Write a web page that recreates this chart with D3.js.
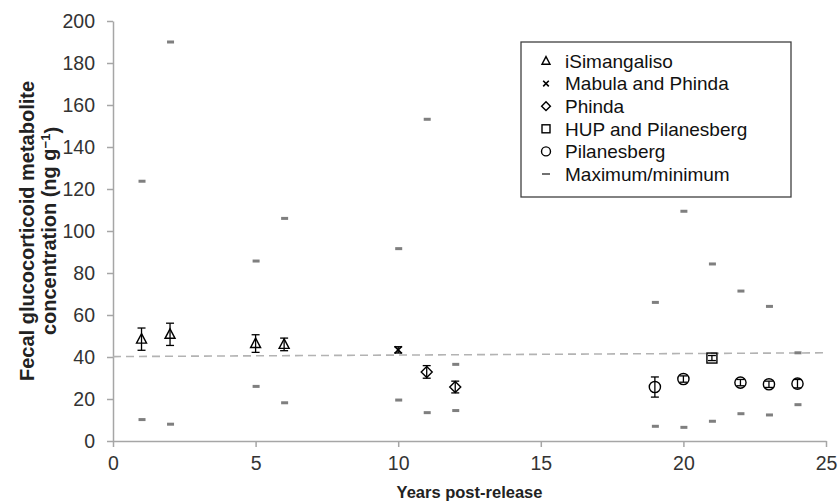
<!DOCTYPE html>
<html>
<head>
<meta charset="utf-8">
<script src="https://cdn.jsdelivr.net/npm/d3@7/dist/d3.min.js"></script>
<style>
  body { margin: 0; background: #fff; }
  text { font-family: "Liberation Sans", Arial, sans-serif; }
</style>
</head>
<body>
<div id="chart"></div>
<script>
const years = [1, 2, 5, 6, 10, 11, 12, 19, 20, 21, 22, 23, 24];
const sites = ['iSimangaliso', 'iSimangaliso', 'iSimangaliso', 'iSimangaliso', 'Mabula and Phinda',
  'Phinda', 'Phinda', 'Pilanesberg', 'Pilanesberg', 'HUP and Pilanesberg', 'Pilanesberg', 'Pilanesberg', 'Pilanesberg'];
const means = [48.5, 50.8, 46.4, 46, 43.4, 32.9, 25.7, 25.7, 29.5, 39.5, 27.8, 27, 27.3];
const errs = [5.3, 5.3, 4.2, 3, 1.5, 3, 2.8, 4.8, 1.5, 1.2, 1.5, 1.5, 2];
const maxima = [123.7, 190, 85.7, 106, 91.6, 153.2, 36.5, 66, 109.4, 84.3, 71.4, 64.1, 42];
const minima = [10.2, 8, 26, 18.2, 19.5, 13.5, 14.5, 7, 6.5, 9.4, 13, 12.4, 17.3];
const trendYears = [0, 25];
const trendValues = [40.2, 42];
const xTicks = [0, 5, 10, 15, 20, 25];
const yTicks = [0, 20, 40, 60, 80, 100, 120, 140, 160, 180, 200];
const legendLabels = ['iSimangaliso', 'Mabula and Phinda', 'Phinda', 'HUP and Pilanesberg', 'Pilanesberg', 'Maximum/minimum'];

const margin = { top: 21, right: 14, bottom: 63, left: 113 };
const width = 840 - margin.left - margin.right;
const height = 504 - margin.top - margin.bottom;

const x = d3.scaleLinear().domain([0, 25]).range([0, width]);
const y = d3.scaleLinear().domain([0, 200]).range([height, 0]);

const svg = d3.select('#chart').append('svg')
  .attr('width', 840)
  .attr('height', 504)
  .append('g')
  .attr('transform', `translate(${margin.left},${margin.top})`);

const axisColor = '#a6a6a6';

// axes
const xAxis = svg.append('g')
  .attr('transform', `translate(0,${height})`)
  .call(d3.axisBottom(x).tickValues(xTicks).tickSize(6).tickSizeOuter(0).tickPadding(9));
const yAxis = svg.append('g')
  .call(d3.axisLeft(y).tickValues(yTicks).tickSize(6).tickSizeOuter(0).tickPadding(12));
[xAxis, yAxis].forEach((a) => {
  a.select('.domain').attr('stroke', axisColor).attr('stroke-width', 1.5);
  a.selectAll('.tick line').attr('stroke', axisColor).attr('stroke-width', 1.5);
  a.selectAll('.tick text').attr('fill', '#333').attr('font-size', '19.5px')
    .attr('font-family', '"Liberation Sans", Arial, sans-serif');
});

// trend line
svg.append('line')
  .attr('x1', x(trendYears[0])).attr('y1', y(trendValues[0]))
  .attr('x2', x(trendYears[1])).attr('y2', y(trendValues[1]))
  .attr('stroke', '#b3b3b3')
  .attr('stroke-width', 1.6)
  .attr('stroke-dasharray', '8,5');

const data = years.map((yr, i) => ({
  year: yr, site: sites[i], mean: means[i], err: errs[i], max: maxima[i], min: minima[i],
}));

// max/min dashes
const dash = svg.append('g');
data.forEach((d) => {
  [d.max, d.min].forEach((v) => {
    dash.append('rect')
      .attr('x', x(d.year) - 3)
      .attr('y', y(v) - 1.5)
      .attr('width', 7)
      .attr('height', 3)
      .attr('fill', '#7f7f7f');
  });
});

// error bars
const eb = svg.append('g').attr('stroke', '#000').attr('stroke-width', 1.3);
data.forEach((d) => {
  const cx = x(d.year);
  eb.append('line').attr('x1', cx).attr('x2', cx).attr('y1', y(d.mean + d.err)).attr('y2', y(d.mean - d.err));
  [d.mean + d.err, d.mean - d.err].forEach((v) => {
    eb.append('line').attr('x1', cx - 4).attr('x2', cx + 4).attr('y1', y(v)).attr('y2', y(v));
  });
});

function marker(g, site, cx, cy, k) {
  const s = g.append('g').attr('transform', `translate(${cx},${cy}) scale(${k})`)
    .attr('fill', 'none').attr('stroke', '#000').attr('stroke-width', 1.4 / k);
  if (site === 'iSimangaliso') {
    s.append('path').attr('d', 'M0,-5.5L5,4L-5,4Z');
  } else if (site === 'Mabula and Phinda') {
    s.append('path').attr('d', 'M-3.5,-3.5L3.5,3.5M3.5,-3.5L-3.5,3.5').attr('stroke-width', 1.6 / k);
  } else if (site === 'Phinda') {
    s.append('path').attr('d', 'M0,-5.5L5.5,0L0,5.5L-5.5,0Z');
  } else if (site === 'HUP and Pilanesberg') {
    s.append('rect').attr('x', -5).attr('y', -5).attr('width', 10).attr('height', 10);
  } else if (site === 'Pilanesberg') {
    s.append('circle').attr('r', 5.6);
  } else {
    s.append('line').attr('x1', -5).attr('x2', 5).attr('y1', 0).attr('y2', 0)
      .attr('stroke-width', 1.4);
  }
}

const marks = svg.append('g');
data.forEach((d) => marker(marks, d.site, x(d.year), y(d.mean), 1));

// legend
const lg = d3.select('svg').append('g').attr('transform', 'translate(521,42)');
lg.append('rect').attr('width', 270).attr('height', 155)
  .attr('fill', '#fff').attr('stroke', '#404040').attr('stroke-width', 1.3);
legendLabels.forEach((lab, i) => {
  const cy = 19 + i * 22.6;
  marker(lg, lab, 25, cy, 0.8);
  lg.append('text').attr('x', 44).attr('y', cy).attr('dy', '0.36em')
    .attr('font-size', '19px').attr('fill', '#111').text(lab);
});

// axis titles
d3.select('svg').append('text')
  .attr('x', margin.left + width / 2).attr('y', 498)
  .attr('text-anchor', 'middle').attr('font-size', '16.5px').attr('font-weight', 'bold')
  .attr('fill', '#222').text('Years post-release');

const yt = d3.select('svg').append('text')
  .attr('transform', 'translate(34,231) rotate(-90)')
  .attr('text-anchor', 'middle').attr('font-size', '20px').attr('font-weight', 'bold').attr('fill', '#222');
yt.append('tspan').attr('x', 0).attr('dy', 0).text('Fecal glucocorticoid metabolite');
const l2 = yt.append('tspan').attr('x', 0).attr('dy', '1.1em').text('concentration (ng g');
l2.append('tspan').attr('dy', '-0.45em').attr('font-size', '13px').text('−1');
l2.append('tspan').attr('dy', '0.45em').text(')');
</script>
</body>
</html>
